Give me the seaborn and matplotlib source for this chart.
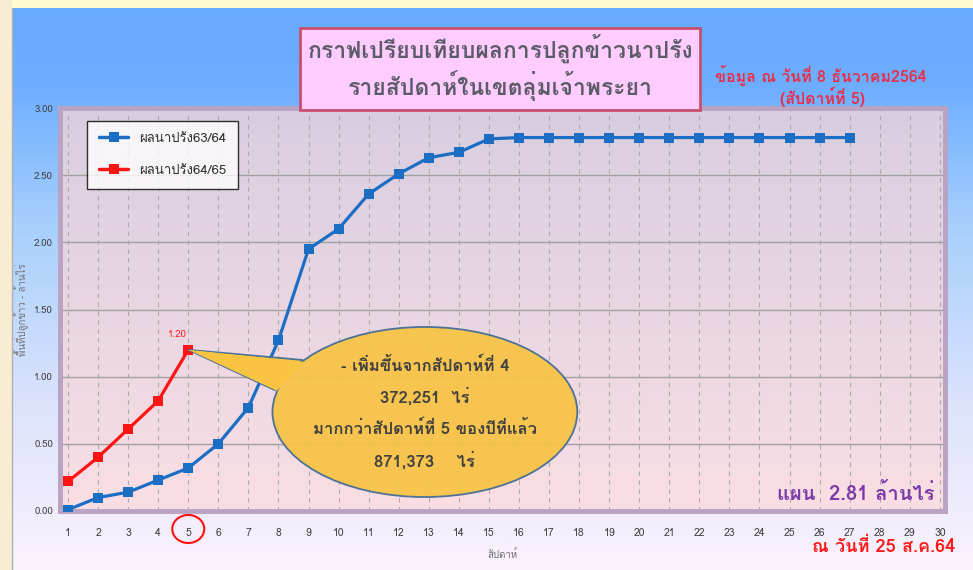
import numpy as np
import pandas as pd
import matplotlib
matplotlib.use("Agg")
import matplotlib.pyplot as plt
import matplotlib.transforms as mtransforms
from matplotlib.colors import LinearSegmentedColormap
from matplotlib.patches import Rectangle, Ellipse, Polygon
from matplotlib.lines import Line2D
import seaborn as sns

# ข้อมูล
weeks_6364 = list(range(1, 28))
area_6364 = [0.01, 0.10, 0.14, 0.23, 0.32, 0.50, 0.77, 1.27, 1.95, 2.10,
             2.36, 2.51, 2.63, 2.67, 2.77, 2.78, 2.78, 2.78, 2.78, 2.78,
             2.78, 2.78, 2.78, 2.78, 2.78, 2.78, 2.78]
weeks_6465 = [1, 2, 3, 4, 5]
area_6465 = [0.22, 0.40, 0.61, 0.82, 1.20]
series_names = ["ผลนาปรัง63/64", "ผลนาปรัง64/65"]
series_colors = ["#1c6ec4", "#ff1414"]
y_ticks = [0.0, 0.5, 1.0, 1.5, 2.0, 2.5, 3.0]
x_ticks = list(range(1, 31))

title_lines = ["กราฟเปรียบเทียบผลการปลูกข้าวนาปรัง", "รายสัปดาห์ในเขตลุ่มเจ้าพระยา"]
info_lines = ["ข้อมูล ณ วันที่ 8 ธันวาคม2564", "(สัปดาห์ที่ 5)"]
callout_lines = ["- เพิ่มขึ้นจากสัปดาห์ที่ 4", "372,251  ไร่",
                 "มากกว่าสัปดาห์ที่ 5 ของปีที่แล้ว", "871,373    ไร่"]
plan_text = "แผน  2.81 ล้านไร่"
date_text = "ณ วันที่ 25 ส.ค.64"

df = pd.concat([
    pd.DataFrame({"week": weeks_6364, "area": area_6364, "series": series_names[0]}),
    pd.DataFrame({"week": weeks_6465, "area": area_6465, "series": series_names[1]}),
])

sns.set_style("white")
plt.rcParams["font.family"] = ["Loma", "Noto Sans Thai Looped", "DejaVu Sans"]

fig = plt.figure(figsize=(9.73, 5.7), dpi=100)

# พื้นหลังไล่สี
bg = fig.add_axes([0, 0, 1, 1], zorder=-10)
bg_cmap = LinearSegmentedColormap.from_list("bg", [
    (0.0, (252/255, 242/255, 252/255)),
    (0.3, (218/255, 226/255, 252/255)),
    (0.6, (168/255, 208/255, 252/255)),
    (0.85, (110/255, 174/255, 255/255)),
    (1.0, (102/255, 170/255, 255/255))])
bg.imshow(np.linspace(0, 1, 256).reshape(-1, 1), cmap=bg_cmap, aspect="auto",
          origin="lower", extent=[0, 1, 0, 1])
bg.set_xlim(0, 1)
bg.set_ylim(0, 1)
bg.axis("off")
bg.add_patch(Rectangle((0, 1 - 8/570), 1, 8/570, color="#fffbd0", lw=0))
bg.add_patch(Rectangle((0, 0), 12/973, 1, color="#f6edd2", lw=0))
bg.plot([12/973, 12/973], [0, 1 - 8/570], color="#b0b0b0", lw=1)

ax = fig.add_axes([60/973, 1 - 511/570, 885/973, 403/570])
xlim = (0.734, 30.17)
ylim = (0, 3.0)
plot_cmap = LinearSegmentedColormap.from_list("pl", [(250/255, 222/255, 228/255),
                                                     (216/255, 206/255, 224/255)])
ax.imshow(np.linspace(0, 1, 256).reshape(-1, 1), cmap=plot_cmap, aspect="auto",
          origin="lower", extent=[xlim[0], xlim[1], ylim[0], ylim[1]], zorder=0)

sns.lineplot(data=df, x="week", y="area", hue="series", palette=series_colors,
             marker="s", markersize=6.5, markeredgewidth=0, linewidth=2.3,
             legend=False, ax=ax, zorder=3)

ax.set_xlim(*xlim)
ax.set_ylim(*ylim)
ax.set_xticks(x_ticks)
ax.set_yticks(y_ticks)
ax.set_yticklabels([f"{v:.2f}" for v in y_ticks])
ax.tick_params(length=0, labelsize=7, colors="#404040", pad=5)
ax.tick_params(axis="x", pad=12, labelsize=7.5)
ax.set_axisbelow(True)
ax.yaxis.grid(True, color="#a0a0a0", lw=1)
ax.xaxis.grid(True, color="#ababab", lw=0.8, ls=(0, (4, 4)))
for s in ax.spines.values():
    s.set_color("#b9a2c2")
    s.set_linewidth(3.5)
ax.set_xlabel("สัปดาห์", fontsize=7, color="#707070", labelpad=8)
ax.set_ylabel("")
fig.text(22/973, 1 - 310/570, "พื้นที่ปลูกข้าว - ล้านไร่", rotation=90, fontsize=7,
         color="#707070", ha="center", va="center")

handles = [Line2D([], [], color=c, lw=2.5, marker="s", markersize=6.5, markeredgewidth=0)
           for c in series_colors]
leg = ax.legend(handles, series_names, loc="upper left", bbox_to_anchor=(0.031, 0.968),
                fontsize=9.5, frameon=True, fancybox=False, labelspacing=1.5,
                handlelength=2.2, borderpad=0.9, borderaxespad=0)
leg.get_frame().set_edgecolor("black")
leg.get_frame().set_linewidth(1)
for t in leg.get_texts():
    t.set_color("#303030")

# ค่าป้าย 1.20
ax.annotate(f"{area_6465[-1]:.2f}", (weeks_6465[-1], area_6465[-1]), xytext=(-8, 9),
            textcoords="offset points", fontsize=7, color="#ff2020", ha="center")

# กล่องข้อความรูปวงรี
cx, cy, cw, ch = 12.87, 0.737, 10.14, 1.266
tail = [(weeks_6465[-1], area_6465[-1]), (8.81, 1.124), (7.88, 0.90)]
ax.add_patch(Polygon(tail, closed=True, fc="#f8c442", ec="#3f6a94", lw=1.3, alpha=0.92, zorder=5))
ax.add_patch(Ellipse((cx, cy), cw, ch, fc="#f8c442", ec="#3f6a94", lw=1.3, alpha=0.92, zorder=5))
ax.add_patch(Polygon([tail[0], (8.86, 1.11), (7.95, 0.895)], closed=True, fc="#f8c442",
                     ec="none", zorder=5.1))
for txt, yy in zip(callout_lines, [1.087, 0.856, 0.618, 0.380]):
    ax.text(cx, yy, txt, fontsize=12, color="#404040", ha="center", va="center",
            fontweight="bold", zorder=6)

ax.text(29.83, 0.127, plan_text, fontsize=14.5, color="#7a3aa8", ha="right", va="center",
        fontweight="bold", zorder=6)

# วงกลมสีแดงรอบสัปดาห์ที่ 5
trans = mtransforms.blended_transform_factory(ax.transData, fig.transFigure)
fig.add_artist(Ellipse((5, 1 - 529/570), 32/30.07, 28/570, transform=trans,
                       fc="none", ec="#ff1010", lw=1.5))

# กล่องชื่อกราฟ
fig.add_artist(Rectangle((300/973, 1 - 110/570), 400/973, 82/570, transform=fig.transFigure,
                         fc="#ffccff", ec="#c8506e", lw=2, zorder=5))
fig.text(500/973, 1 - 48/570, title_lines[0], fontsize=16.5, color="#5c5c68",
         fontweight="bold", ha="center", va="center", zorder=6)
fig.text(500/973, 1 - 86/570, title_lines[1], fontsize=16.5, color="#5c5c68",
         fontweight="bold", ha="center", va="center", zorder=6)

fig.text(821/973, 1 - 75/570, info_lines[0], fontsize=11.5, color="#e6304c",
         fontweight="bold", ha="center", va="center")
fig.text(822/973, 1 - 97/570, info_lines[1], fontsize=11.5, color="#e6304c",
         fontweight="bold", ha="center", va="center")

fig.text(955/973, 1 - 547/570, date_text, fontsize=13, color="#ff1a1a",
         fontweight="bold", ha="right", va="center")

fig.savefig("out.png", dpi=100)
